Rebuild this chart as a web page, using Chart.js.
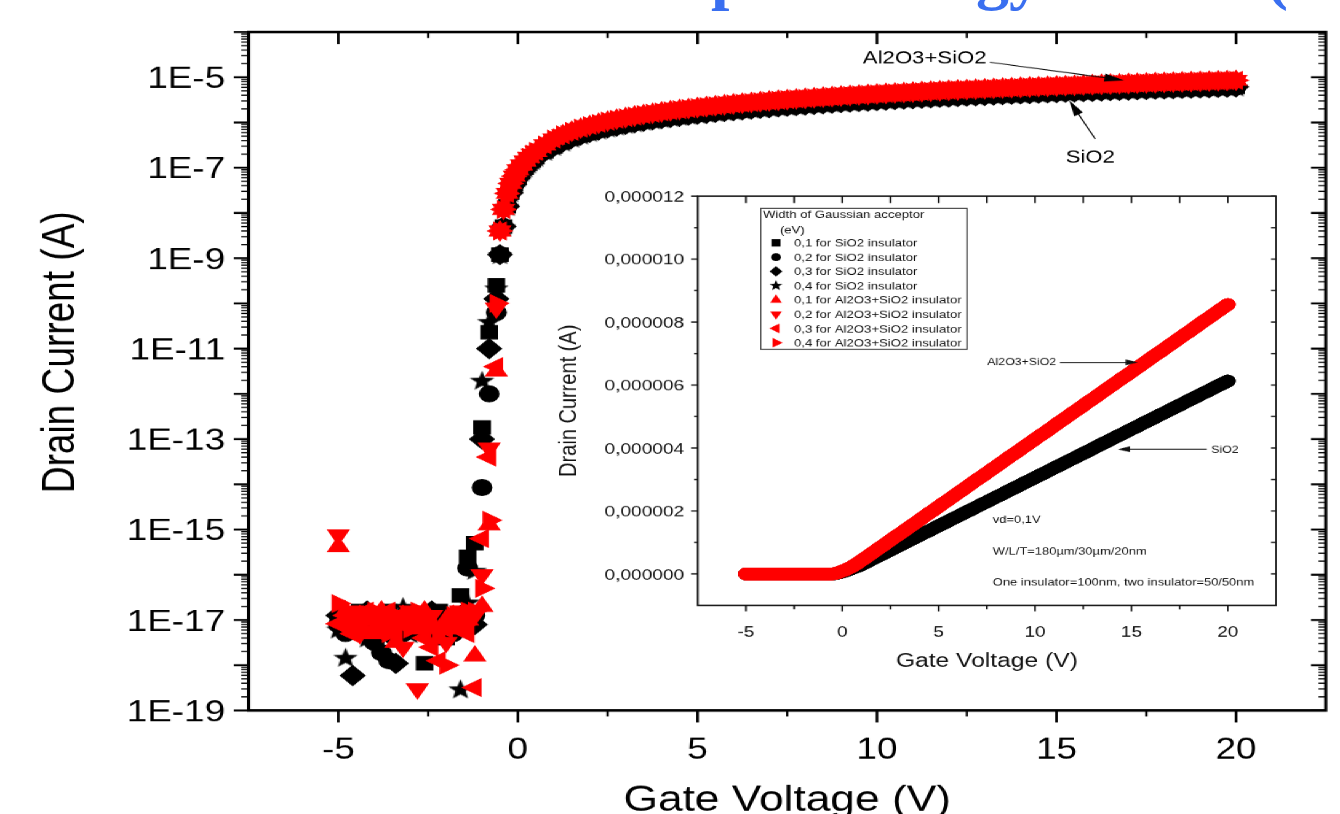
<!DOCTYPE html>
<html><head><meta charset="utf-8">
<script src="https://cdn.jsdelivr.net/npm/chart.js@4.4.1/dist/chart.umd.min.js"></script>
<style>
html,body{margin:0;padding:0;background:#fff;}
#stage{position:relative;width:1340px;height:814px;overflow:hidden;background:#fff;}
#stretch{position:absolute;left:0;top:0;width:1089px;height:814px;transform:scaleX(1.230487);transform-origin:0 0;}
#stretch canvas{position:absolute;left:0;top:0;}
.frag{position:absolute;font-family:"Liberation Serif",serif;font-weight:bold;font-size:66px;line-height:66px;color:#3a6ff0;white-space:pre;}
</style></head>
<body>
<div id="stage">
  <div id="stretch">
    <canvas id="main" width="1089" height="814"></canvas>
    <canvas id="inset" width="1089" height="814"></canvas>
  </div>
  <div class="frag" style="left:711px;top:-58px">p</div>
  <div class="frag" style="left:976px;top:-58px">gy</div>
  <div class="frag" style="left:1266px;top:-58px">(</div>
</div>
<script>
// ---------------- DATA ----------------
// gate voltage grid of the sub-threshold / noise region (each series has its own values here)
const vLow = [-5.0,-4.8,-4.6,-4.4,-4.2,-4.0,-3.8,-3.6,-3.4,-3.2,-3.0,-2.8,-2.6,-2.4,-2.2,-2.0,-1.8,-1.6,-1.4,-1.2,-1.0,-0.8,-0.6];
// gate voltage grid of the on region (series of the same insulator overlap here)
const vOn = [-0.5,-0.4,-0.3,-0.2,-0.1,0,0.1,0.2,0.3,0.4,0.5,0.75,1,1.25,1.5,1.75,2,2.25,2.5,2.75,3,3.25,3.5,3.75,4,4.25,4.5,4.75,5,5.25,5.5,5.75,6,6.25,6.5,6.75,7,7.25,7.5,7.75,8,8.25,8.5,8.75,9,9.25,9.5,9.75,10,10.25,10.5,10.75,11,11.25,11.5,11.75,12,12.25,12.5,12.75,13,13.25,13.5,13.75,14,14.25,14.5,14.75,15,15.25,15.5,15.75,16,16.25,16.5,16.75,17,17.25,17.5,17.75,18,18.25,18.5,18.75,19,19.25,19.5,19.75,20];

// drain current (A), SiO2 insulator, on region
const sio2OnCurrent = [1.2e-9,5e-9,1.4e-8,2.8e-8,4.3e-8,6e-8,8e-8,1.0e-7,1.22e-7,1.45e-7,1.7e-7,2.3e-7,2.95e-7,3.7e-7,4.5e-7,5.27e-7,6.04e-7,6.81e-7,7.58e-7,8.34e-7,9.11e-7,9.88e-7,1.07e-6,1.14e-6,1.22e-6,1.30e-6,1.37e-6,1.45e-6,1.53e-6,1.60e-6,1.68e-6,1.76e-6,1.83e-6,1.91e-6,1.99e-6,2.06e-6,2.14e-6,2.22e-6,2.29e-6,2.37e-6,2.45e-6,2.52e-6,2.60e-6,2.68e-6,2.75e-6,2.83e-6,2.91e-6,2.98e-6,3.06e-6,3.14e-6,3.21e-6,3.29e-6,3.37e-6,3.44e-6,3.52e-6,3.60e-6,3.67e-6,3.75e-6,3.83e-6,3.90e-6,3.98e-6,4.06e-6,4.14e-6,4.21e-6,4.29e-6,4.37e-6,4.44e-6,4.52e-6,4.60e-6,4.67e-6,4.75e-6,4.83e-6,4.90e-6,4.98e-6,5.06e-6,5.13e-6,5.21e-6,5.29e-6,5.36e-6,5.44e-6,5.52e-6,5.59e-6,5.67e-6,5.75e-6,5.82e-6,5.90e-6,5.98e-6,6.05e-6,6.13e-6];
// drain current (A), Al2O3+SiO2 insulator, on region
const al2o3OnCurrent = [4e-9,1.2e-8,2.7e-8,4.5e-8,6.5e-8,9e-8,1.15e-7,1.4e-7,1.7e-7,2.0e-7,2.3e-7,3.2e-7,4.3e-7,5.35e-7,6.4e-7,7.5e-7,8.55e-7,9.6e-7,1.07e-6,1.18e-6,1.28e-6,1.39e-6,1.50e-6,1.60e-6,1.71e-6,1.82e-6,1.93e-6,2.03e-6,2.14e-6,2.25e-6,2.35e-6,2.46e-6,2.57e-6,2.67e-6,2.78e-6,2.89e-6,3.00e-6,3.10e-6,3.21e-6,3.32e-6,3.42e-6,3.53e-6,3.64e-6,3.75e-6,3.85e-6,3.96e-6,4.07e-6,4.17e-6,4.28e-6,4.39e-6,4.49e-6,4.60e-6,4.71e-6,4.82e-6,4.92e-6,5.03e-6,5.14e-6,5.24e-6,5.35e-6,5.46e-6,5.56e-6,5.67e-6,5.78e-6,5.89e-6,5.99e-6,6.10e-6,6.21e-6,6.31e-6,6.42e-6,6.53e-6,6.63e-6,6.74e-6,6.85e-6,6.96e-6,7.06e-6,7.17e-6,7.28e-6,7.38e-6,7.49e-6,7.60e-6,7.70e-6,7.81e-6,7.92e-6,8.03e-6,8.13e-6,8.24e-6,8.35e-6,8.45e-6,8.56e-6];

// drain current (A) in the noise / sub-threshold region, one array per series (on vLow)
const sio2W01Low = [1.0e-17,1.26e-17,6.3e-18,1.58e-17,7.9e-18,1.26e-17,5.0e-18,1.58e-17,1.0e-17,6.3e-18,1.26e-17,7.9e-18,1.1e-18,1.0e-17,1.58e-17,4.0e-18,1.26e-17,3.5e-17,2.5e-16,5.0e-16,1.8e-13,2.3e-11,2.5e-10];
const sio2W02Low = [7.9e-18,5.0e-18,1.26e-17,1.0e-17,6.3e-18,3.2e-18,1.9e-18,1.26e-18,7.9e-18,5.0e-18,1.0e-17,1.26e-17,6.3e-18,4.0e-18,7.9e-18,1.26e-17,5.0e-18,7.9e-18,1.4e-16,1.26e-17,8.5e-15,1.0e-12,6.3e-11];
const sio2W03Low = [1.26e-17,6.3e-18,5.9e-19,1.0e-17,1.58e-17,7.9e-18,1.0e-17,5.0e-18,1.1e-18,7.9e-18,1.26e-17,6.3e-18,1.0e-17,1.58e-17,5.0e-18,7.9e-18,1.0e-17,1.26e-17,1.58e-17,7.9e-18,1.0e-13,1.0e-11,1.26e-10];
const sio2W04Low = [6.3e-18,1.5e-18,1.0e-17,1.26e-17,4.0e-18,7.9e-18,1.58e-17,6.3e-18,1.0e-17,2.0e-17,5.0e-18,7.9e-18,1.26e-17,6.3e-18,1.0e-17,5.0e-18,7.9e-18,3.0e-19,2.5e-17,1.26e-16,2.0e-12,4.0e-11,2.2e-10];
const al2o3W01Low = [4.2e-16,1.58e-17,6.3e-18,1.26e-17,1.0e-17,5.0e-18,1.58e-17,7.9e-18,3.2e-18,1.26e-17,1.0e-17,6.3e-18,1.58e-17,7.9e-18,4.0e-18,1.0e-17,1.26e-17,6.3e-18,1.0e-17,1.6e-18,2.0e-17,1.26e-15,3.2e-12];
const al2o3W02Low = [7.6e-16,7.9e-18,1.58e-17,5.0e-18,1.26e-17,1.0e-17,6.3e-18,1.26e-17,1.0e-17,2.5e-18,1.58e-17,3.0e-19,7.9e-18,1.26e-17,5.0e-18,3.2e-18,1.0e-17,1.58e-17,7.9e-18,1.26e-17,1.0e-16,6.3e-14,7.9e-11];
const al2o3W03Low = [8.3e-18,1.26e-17,5.0e-18,1.0e-17,1.58e-17,6.3e-18,1.0e-17,1.58e-17,5.0e-18,7.9e-18,1.26e-17,1.0e-17,4.0e-18,2.5e-18,1.26e-18,6.3e-18,1.0e-17,1.26e-17,5.0e-18,3.2e-19,6.3e-16,4.0e-14,4.0e-12];
const al2o3W04Low = [2.3e-17,1.0e-17,1.26e-17,6.3e-18,1.0e-17,1.58e-17,7.9e-18,5.0e-18,1.26e-17,1.0e-17,6.3e-18,1.58e-17,1.0e-17,7.9e-18,6.3e-18,1.0e-18,1.26e-17,1.0e-17,1.58e-17,1.58e-17,5.0e-17,1.6e-15,1.0e-10];

const seriesLabels = ['0,1 for SiO2 insulator','0,2 for SiO2 insulator','0,3 for SiO2 insulator','0,4 for SiO2 insulator',
  '0,1 for Al2O3+SiO2 insulator','0,2 for Al2O3+SiO2 insulator','0,3 for Al2O3+SiO2 insulator','0,4 for Al2O3+SiO2 insulator'];
const legendTitle = ['Width of Gaussian acceptor','(eV)'];

// tick labels
const mainXTickValues = [-5,0,5,10,15,20];
const mainXTickLabels = ['-5','0','5','10','15','20'];
const mainXMinorValues = [-2.5,2.5,7.5,12.5,17.5];
const mainYTickValues = [1e-5,1e-7,1e-9,1e-11,1e-13,1e-15,1e-17,1e-19];
const mainYTickLabels = ['1E-5','1E-7','1E-9','1E-11','1E-13','1E-15','1E-17','1E-19'];
const insetXTickValues = [-5,0,5,10,15,20];
const insetXTickLabels = ['-5','0','5','10','15','20'];
const insetXMinorValues = [-2.5,2.5,7.5,12.5,17.5];
const insetYTickValues = [0,2e-6,4e-6,6e-6,8e-6,1e-5,1.2e-5];
const insetYTickLabels = ['0,000000','0,000002','0,000004','0,000006','0,000008','0,000010','0,000012'];
const insetYMinorValues = [1e-6,3e-6,5e-6,7e-6,9e-6,1.1e-5];

// annotations (data coordinates)
const mainNotes = [
  {text:'Al2O3+SiO2', tx:11.33, ty:2.63e-5, from:[13.14,2.15e-5], to:[16.88,8.6e-6]},
  {text:'SiO2', tx:15.94, ty:1.7e-7, from:[16.08,4.3e-7], to:[15.35,3.1e-6]}
];
const insetNotes = [
  {text:'Al2O3+SiO2', tx:9.31, ty:6.72e-6, from:[11.29,6.72e-6], to:[15.33,6.72e-6]},
  {text:'SiO2', tx:19.85, ty:3.93e-6, from:[18.91,3.96e-6], to:[14.29,3.96e-6]}
];
const insetTexts = [
  {text:'vd=0,1V', x:7.81, y:1.70e-6},
  {text:'W/L/T=180\u00b5m/30\u00b5m/20nm', x:7.81, y:0.715e-6},
  {text:'One insulator=100nm, two insulator=50/50nm', x:7.81, y:-0.27e-6}
];

// ---------------- STYLE ----------------
const S = 1340 / 1089;
const FONT = '"Liberation Sans", Arial, sans-serif';
const RED = '#ff0000', BLACK = '#000000';
const markerStyles = [
  {kind:'rect', rot:0, r:9.5, lr:5.2, color:BLACK},
  {kind:'circle', rot:0, r:8, lr:4, color:BLACK},
  {kind:'rectRot', rot:0, r:10, lr:5.2, color:BLACK},
  {kind:'star', rot:0, r:10.5, lr:5.5, color:BLACK},
  {kind:'triangle', rot:0, r:10, lr:5.5, color:RED},
  {kind:'triangle', rot:180, r:10, lr:5.5, color:RED},
  {kind:'triangle', rot:270, r:10, lr:5.5, color:RED},
  {kind:'triangle', rot:90, r:10, lr:5.5, color:RED}
];
const lowSeries = [sio2W01Low,sio2W02Low,sio2W03Low,sio2W04Low,al2o3W01Low,al2o3W02Low,al2o3W03Low,al2o3W04Low];

function buildSeries(low, on){
  return vLow.map((v,i)=>({x:v,y:low[i]})).concat(vOn.map((v,i)=>({x:v,y:on[i]})));
}
function starPath(ctx, cx, cy, R){
  ctx.beginPath();
  for(let k=0;k<10;k++){
    const rr = k%2 ? R*0.42 : R;
    const a = -Math.PI/2 + k*Math.PI/5;
    ctx.lineTo(cx+rr*Math.cos(a), cy+rr*Math.sin(a));
  }
  ctx.closePath();
}
function makeStar(R,color){
  const c = document.createElement('canvas');
  const s = Math.ceil(2*R+2); c.width=s; c.height=s;
  const g = c.getContext('2d'); g.fillStyle=color; starPath(g,s/2,s/2+1,R); g.fill();
  return c;
}
const starImg = makeStar(markerStyles[3].r, BLACK);

function line(ctx,x1,y1,x2,y2){ctx.beginPath();ctx.moveTo(x1,y1);ctx.lineTo(x2,y2);ctx.stroke();}
function arrow(ctx,x1,y1,x2,y2,hl,hw){
  const a=Math.atan2(y2-y1,x2-x1);
  line(ctx,x1,y1,x2-hl*0.8*Math.cos(a),y2-hl*0.8*Math.sin(a));
  ctx.beginPath();ctx.moveTo(x2,y2);
  ctx.lineTo(x2-hl*Math.cos(a)+hw*Math.sin(a), y2-hl*Math.sin(a)-hw*Math.cos(a));
  ctx.lineTo(x2-hl*Math.cos(a)-hw*Math.sin(a), y2-hl*Math.sin(a)+hw*Math.cos(a));
  ctx.closePath();ctx.fill();
}
function drawMarker(ctx, st, x, y, r){
  ctx.save(); ctx.translate(x,y); ctx.rotate(st.rot*Math.PI/180); ctx.fillStyle=st.color; ctx.beginPath();
  if(st.kind==='rect'){const h=r*Math.SQRT1_2; ctx.rect(-h,-h,2*h,2*h);}
  else if(st.kind==='circle'){ctx.arc(0,0,r,0,2*Math.PI);}
  else if(st.kind==='rectRot'){ctx.moveTo(0,-r);ctx.lineTo(r,0);ctx.lineTo(0,r);ctx.lineTo(-r,0);ctx.closePath();}
  else if(st.kind==='star'){starPath(ctx,0,0,r);}
  else {ctx.moveTo(0,-r);ctx.lineTo(r*Math.sin(2*Math.PI/3),-r*Math.cos(2*Math.PI/3));ctx.lineTo(r*Math.sin(4*Math.PI/3),-r*Math.cos(4*Math.PI/3));ctx.closePath();}
  ctx.fill(); ctx.restore();
}

// ---------------- MAIN CHART ----------------
const mainAxes = {
  id:'mainAxes',
  afterDatasetsDraw(chart){
    const {ctx, chartArea:a, scales:{x,y}} = chart;
    ctx.save();
    ctx.strokeStyle=BLACK; ctx.fillStyle=BLACK;
    ctx.lineWidth=2.2;
    mainXTickValues.forEach(v=>{const p=x.getPixelForValue(v); line(ctx,p,a.bottom,p,a.bottom+12); line(ctx,p,a.top,p,a.top+12);});
    ctx.lineWidth=1.8;
    mainXMinorValues.forEach(v=>{const p=x.getPixelForValue(v); line(ctx,p,a.bottom,p,a.bottom+6); line(ctx,p,a.top,p,a.top+6);});
    for(let e=-19;e<=-4;e++){
      const dec=Math.pow(10,e);
      ctx.lineWidth=2;
      const p=y.getPixelForValue(dec);
      line(ctx,a.left-12,p,a.left,p); line(ctx,a.right-12,p,a.right,p);
      if(e<-4){
        ctx.lineWidth=1.2;
        for(let m=2;m<=9;m++){const q=y.getPixelForValue(m*dec); line(ctx,a.left-6,q,a.left,q); line(ctx,a.right-6,q,a.right,q);}
      }
    }
    ctx.lineWidth=2.6; ctx.strokeRect(a.left,a.top,a.right-a.left,a.bottom-a.top);
    const fs=30;
    ctx.font=fs+'px '+FONT; ctx.textAlign='right'; ctx.textBaseline='alphabetic';
    mainYTickValues.forEach((v,i)=>ctx.fillText(mainYTickLabels[i], a.left-19, y.getPixelForValue(v)+0.358*fs));
    ctx.textAlign='center';
    mainXTickValues.forEach((v,i)=>ctx.fillText(mainXTickLabels[i], x.getPixelForValue(v), a.bottom+48));
    ctx.font='36px '+FONT;
    ctx.fillText('Gate Voltage (V)', (a.left+a.right)/2, 810);
    ctx.save(); ctx.translate(60,352); ctx.rotate(-Math.PI/2); ctx.font='37px '+FONT; ctx.fillText('Drain Current (A)',0,0); ctx.restore();
    ctx.font='18px '+FONT; ctx.textBaseline='middle'; ctx.lineWidth=1;
    mainNotes.forEach(n=>{
      ctx.fillText(n.text, x.getPixelForValue(n.tx), y.getPixelForValue(n.ty));
      arrow(ctx, x.getPixelForValue(n.from[0]), y.getPixelForValue(n.from[1]), x.getPixelForValue(n.to[0]), y.getPixelForValue(n.to[1]), 16, 4);
    });
    ctx.restore();
  }
};

new Chart(document.getElementById('main'), {
  type:'scatter',
  data:{datasets: seriesLabels.map((lab,i)=>({
    label:lab,
    data: buildSeries(lowSeries[i], i<4 ? sio2OnCurrent : al2o3OnCurrent),
    order: seriesLabels.length - i,
    showLine:false,
    pointStyle: markerStyles[i].kind==='star' ? starImg : markerStyles[i].kind,
    pointRotation: markerStyles[i].rot,
    pointRadius: markerStyles[i].r,
    pointBackgroundColor: markerStyles[i].color,
    pointBorderColor: markerStyles[i].color,
    pointBorderWidth: 1,
    backgroundColor: markerStyles[i].color,
    borderColor: markerStyles[i].color
  }))},
  options:{
    responsive:false, animation:false, devicePixelRatio:S, events:[],
    layout:{padding:{left:202, right:10, top:32, bottom:104}},
    scales:{
      x:{type:'linear', min:-7.5, max:22.5, display:false},
      y:{type:'logarithmic', min:1e-19, max:1e-4, display:false}
    },
    plugins:{legend:{display:false}, tooltip:{enabled:false}}
  },
  plugins:[mainAxes]
});

// ---------------- INSET CHART ----------------
const insetAxes = {
  id:'insetAxes',
  afterDatasetsDraw(chart){
    const {ctx, chartArea:a, scales:{x,y}} = chart;
    ctx.save();
    ctx.strokeStyle='#111'; ctx.fillStyle='#111';
    ctx.lineWidth=1.3;
    insetXTickValues.forEach(v=>{const p=x.getPixelForValue(v); line(ctx,p,a.bottom,p,a.bottom+6); line(ctx,p,a.top,p,a.top+7);});
    insetXMinorValues.forEach(v=>{const p=x.getPixelForValue(v); line(ctx,p,a.bottom,p,a.bottom+4); line(ctx,p,a.top,p,a.top+7);});
    insetYTickValues.forEach(v=>{const p=y.getPixelForValue(v); line(ctx,a.left-5.5,p,a.left,p); line(ctx,a.right-4,p,a.right,p);});
    insetYMinorValues.forEach(v=>{const p=y.getPixelForValue(v); line(ctx,a.left-3,p,a.left,p); line(ctx,a.right-4,p,a.right,p);});
    ctx.lineWidth=1.4; ctx.strokeRect(a.left,a.top,a.right-a.left,a.bottom-a.top);
    const fs=15.5;
    ctx.font=fs+'px '+FONT; ctx.textAlign='right'; ctx.textBaseline='alphabetic';
    insetYTickValues.forEach((v,i)=>ctx.fillText(insetYTickLabels[i], a.left-11, y.getPixelForValue(v)+0.358*fs));
    ctx.textAlign='center';
    insetXTickValues.forEach((v,i)=>ctx.fillText(insetXTickLabels[i], x.getPixelForValue(v), a.bottom+31));
    ctx.font='20px '+FONT;
    ctx.fillText('Gate Voltage (V)', (a.left+a.right)/2, a.bottom+61);
    ctx.save(); ctx.translate(468,(a.top+a.bottom)/2); ctx.rotate(-Math.PI/2); ctx.fillText('Drain Current (A)',0,0); ctx.restore();
    const lx=a.left+51.2, ly=a.top+12.3, lw=167.7, lh=140.7;
    ctx.lineWidth=1; ctx.strokeStyle='#333'; ctx.strokeRect(lx,ly,lw,lh);
    ctx.font='10.7px '+FONT; ctx.textAlign='left'; ctx.fillStyle='#111';
    ctx.fillText(legendTitle[0], lx+1.8, ly+9.5);
    ctx.fillText(legendTitle[1], lx+15.6, ly+24.7);
    seriesLabels.forEach((lab,i)=>{
      const ry = ly+34.4+i*14.25;
      drawMarker(ctx, markerStyles[i], lx+12.4, ry, markerStyles[i].lr);
      ctx.fillStyle='#111';
      ctx.fillText(lab, lx+27, ry+3.8);
    });
    ctx.strokeStyle='#111'; ctx.fillStyle='#111'; ctx.lineWidth=0.9;
    ctx.font='10px '+FONT; ctx.textAlign='center'; ctx.textBaseline='middle';
    insetNotes.forEach(n=>{
      ctx.fillText(n.text, x.getPixelForValue(n.tx), y.getPixelForValue(n.ty));
      arrow(ctx, x.getPixelForValue(n.from[0]), y.getPixelForValue(n.from[1]), x.getPixelForValue(n.to[0]), y.getPixelForValue(n.to[1]), 10, 3);
    });
    ctx.font='10.5px '+FONT; ctx.textAlign='left';
    insetTexts.forEach(t=>ctx.fillText(t.text, x.getPixelForValue(t.x), y.getPixelForValue(t.y)));
    ctx.restore();
  }
};

new Chart(document.getElementById('inset'), {
  type:'scatter',
  data:{datasets: seriesLabels.map((lab,i)=>({
    label:lab,
    data: buildSeries(lowSeries[i], i<4 ? sio2OnCurrent : al2o3OnCurrent),
    order: seriesLabels.length - i,
    showLine:true,
    borderColor: markerStyles[i].color,
    backgroundColor: markerStyles[i].color,
    borderWidth:12.5,
    borderCapStyle:'round',
    borderJoinStyle:'round',
    pointRadius:0,
    fill:false
  }))},
  options:{
    responsive:false, animation:false, devicePixelRatio:S, events:[],
    layout:{padding:{left:567, right:52, top:196, bottom:209}},
    scales:{
      x:{type:'linear', min:-7.5, max:22.5, display:false},
      y:{type:'linear', min:-1e-6, max:1.2e-5, display:false}
    },
    plugins:{legend:{display:false}, tooltip:{enabled:false}}
  },
  plugins:[insetAxes]
});
</script>
</body></html>
